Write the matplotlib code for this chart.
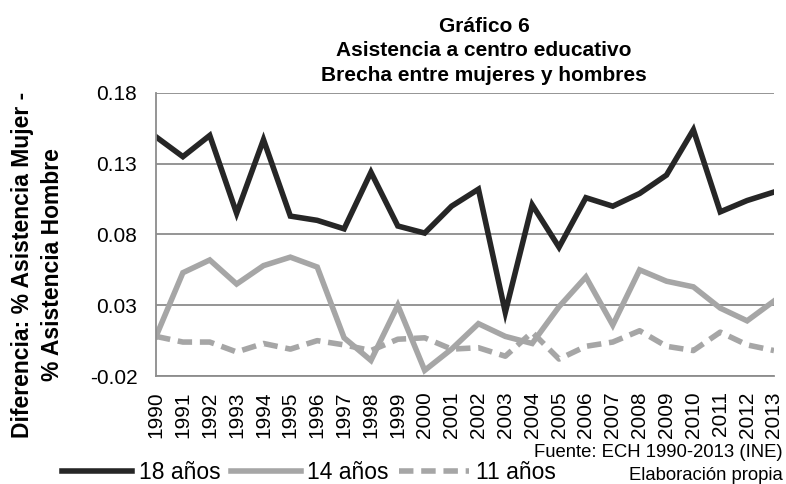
import matplotlib
matplotlib.use("Agg")
import matplotlib.pyplot as plt

plt.rcParams['font.family'] = ['Liberation Sans', 'DejaVu Sans']

years = list(range(1990, 2014))
year_labels = [str(y) for y in years]

edad18 = [0.149, 0.135, 0.150, 0.095, 0.147, 0.093, 0.090, 0.084, 0.124, 0.086,
          0.081, 0.100, 0.112, 0.025, 0.101, 0.071, 0.106, 0.100, 0.109, 0.122,
          0.154, 0.096, 0.104, 0.110]
edad14 = [0.008, 0.053, 0.062, 0.045, 0.058, 0.064, 0.057, 0.007, -0.009, 0.030,
          -0.016, -0.001, 0.017, 0.008, 0.003, 0.029, 0.050, 0.016, 0.055, 0.047,
          0.043, 0.028, 0.019, 0.033]
edad11 = [0.008, 0.004, 0.004, -0.003, 0.003, -0.001, 0.005, 0.002, -0.002, 0.006,
          0.007, -0.001, 0.000, -0.006, 0.011, -0.008, 0.001, 0.004, 0.012, 0.001,
          -0.002, 0.011, 0.002, -0.002]

yticks = [-0.02, 0.03, 0.08, 0.13, 0.18]
ytick_labels = ['-0.02', '0.03', '0.08', '0.13', '0.18']

GRID = '#8c8c8c'
DARK = '#262626'
LIGHT = '#a6a6a6'

fig = plt.figure(figsize=(7.86, 4.84), dpi=100)
ax = fig.add_axes([0.1985, 0.2231, 0.7862, 0.5848])

ax.plot(years, edad18, color=DARK, lw=4, label='18 años', solid_joinstyle='miter')
ax.plot(years, edad14, color=LIGHT, lw=4, label='14 años', solid_joinstyle='miter')
ax.plot(years, edad11, color=LIGHT, lw=4, ls=(0, (2.6, 1.4)), label='11 años')

ax.set_xlim(1990, 2013)
ax.set_ylim(-0.02, 0.18)
ax.set_yticks(yticks)
ax.set_yticklabels(ytick_labels)
ax.set_xticks(years)
ax.set_xticklabels(year_labels, rotation=90)
ax.tick_params(axis='y', length=0, pad=13.5, labelsize=15)
ax.tick_params(axis='x', length=0, pad=11, labelsize=15)
ax.grid(axis='y', color=GRID, lw=1.3)
ax.set_axisbelow(True)
for s in ['top', 'right']:
    ax.spines[s].set_visible(False)
for s in ['left', 'bottom']:
    ax.spines[s].set_color(GRID)
    ax.spines[s].set_linewidth(1.3)

fig.text(0.616, 0.965, 'Gráfico 6\nAsistencia a centro educativo\nBrecha entre mujeres y hombres',
         ha='center', va='top', fontsize=15, fontweight='bold', linespacing=1.36)
fig.text(0.0475, 0.4525, 'Diferencia: % Asistencia Mujer -\n% Asistencia Hombre',
         rotation=90, ha='center', va='center', fontsize=16.5, fontweight='bold',
         multialignment='center', linespacing=1.4)
fig.text(0.996, 0.066, 'Fuente: ECH 1990-2013 (INE)', ha='right', va='center', fontsize=13.3)
fig.text(0.996, 0.018, 'Elaboración propia', ha='right', va='center', fontsize=13.3)

fig.legend(loc='center left', bbox_to_anchor=(0.0789, 0.024), ncol=3, frameon=False,
           fontsize=16.5, handlelength=3.05, handletextpad=0.3, columnspacing=0.45,
           borderaxespad=0, borderpad=0)

fig.savefig('out.png', dpi=100)
